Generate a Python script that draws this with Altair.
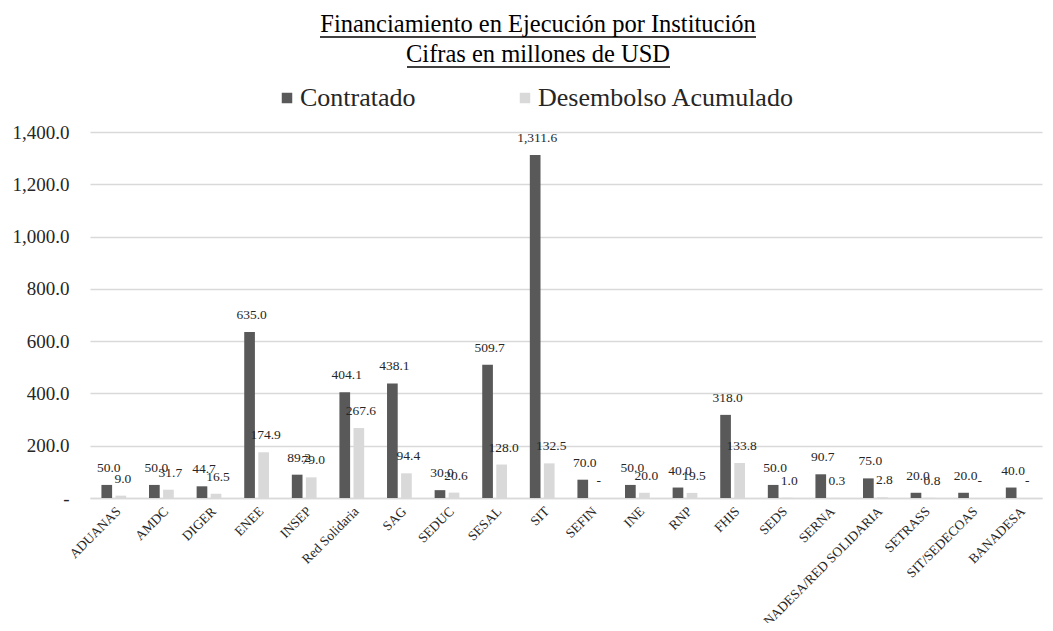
import altair as alt
import pandas as pd

categories = ["ADUANAS", "AMDC", "DIGER", "ENEE", "INSEP", "Red Solidaria", "SAG", "SEDUC",
              "SESAL", "SIT", "SEFIN", "INE", "RNP", "FHIS", "SEDS", "SERNA",
              "BANADESA/RED SOLIDARIA", "SETRASS", "SIT/SEDECOAS", "BANADESA"]
contratado = [50.0, 50.0, 44.7, 635.0, 89.2, 404.1, 438.1, 30.0, 509.7, 1311.6,
              70.0, 50.0, 40.0, 318.0, 50.0, 90.7, 75.0, 20.0, 20.0, 40.0]
desembolso = [9.0, 31.7, 16.5, 174.9, 79.0, 267.6, 94.4, 20.6, 128.0, 132.5,
              0.0, 20.0, 19.5, 133.8, 1.0, 0.3, 2.8, 0.8, 0.0, 0.0]
series = ["Contratado", "Desembolso Acumulado"]
colors = ["#595959", "#d9d9d9"]
title_lines = ["Financiamiento en Ejecución por Institución", "Cifras en millones de USD"]

rows = []
for c, a, b in zip(categories, contratado, desembolso):
    rows.append({"Institucion": c, "Serie": series[0], "Monto": a})
    rows.append({"Institucion": c, "Serie": series[1], "Monto": b})
df = pd.DataFrame(rows)

FONT = "Liberation Serif"

base = alt.Chart(df).encode(
    x=alt.X("Institucion:N", sort=categories,
            scale=alt.Scale(paddingInner=0.48, paddingOuter=0.24),
            axis=alt.Axis(title=None, labelAngle=-45, labelFont=FONT, labelFontSize=13.5,
                          labelColor="#262626", ticks=False, domainColor="#d9d9d9",
                          domainWidth=1.5, labelPadding=6, labelAlign="right",
                          labelBaseline="top", labelLimit=400)),
    xOffset=alt.XOffset("Serie:N", sort=series,
                        scale=alt.Scale(paddingInner=0.24, paddingOuter=0)),
    y=alt.Y("Monto:Q", scale=alt.Scale(domain=[0, 1400]),
            axis=alt.Axis(title=None, values=[0, 200, 400, 600, 800, 1000, 1200, 1400],
                          labelExpr="datum.value == 0 ? '-' : format(datum.value, ',.1f')",
                          labelFont=FONT, labelFontSize=19, labelColor="#262626",
                          ticks=False, domain=False, labelPadding=21,
                          gridColor="#d9d9d9", gridWidth=1.5)),
)

bars = base.mark_bar().encode(
    color=alt.Color("Serie:N", sort=series,
                    scale=alt.Scale(domain=series, range=colors),
                    legend=alt.Legend(title=None, orient="none", direction="horizontal",
                                      legendX=176, legendY=-47, symbolType="square",
                                      symbolSize=110, symbolStrokeWidth=0, symbolOffset=8,
                                      labelFont=FONT, labelFontSize=26, labelColor="#262626",
                                      labelOffset=0, columnPadding=88, labelLimit=0))
)

labels = base.transform_calculate(
    label="datum.Monto == 0 ? '-' : format(datum.Monto, ',.1f')"
).mark_text(baseline="bottom", dy=-10, dx=2, font=FONT, fontSize=13.5, color="#262626").encode(
    text="label:N"
)

one = alt.Data(values=[{"k": 1}])
underline1 = alt.Chart(one).mark_rule(color="black", strokeWidth=1.4).encode(
    x=alt.value(230), x2=alt.value(666), y=alt.value(-95))
underline2 = alt.Chart(one).mark_rule(color="black", strokeWidth=1.4).encode(
    x=alt.value(317), x2=alt.value(580), y=alt.value(-65))

chart = alt.layer(bars, labels, underline1, underline2).properties(
    width=952, height=366,
    autosize=alt.AutoSizeParams(type="none"),
    padding={"left": 82, "top": 124, "right": 3, "bottom": 125},
    title=alt.TitleParams(text=title_lines, font=FONT, fontSize=24.5, fontWeight="normal",
                          color="black", anchor="middle", dx=-28, offset=-31.5, lineHeight=30),
).configure_view(stroke=None)

chart.save("out.html", embed_options={"renderer": "svg", "actions": False})
